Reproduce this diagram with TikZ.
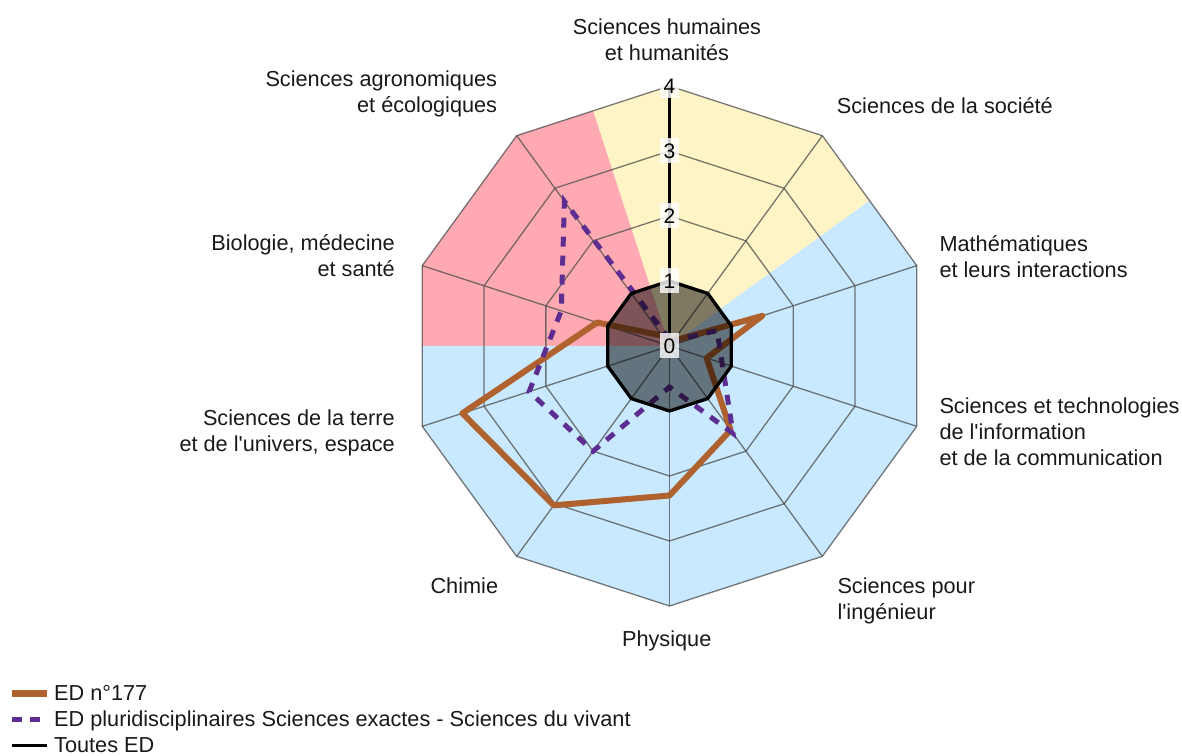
\documentclass[tikz,border=0pt]{standalone}
\usepackage{fontspec}
\setmainfont{Liberation Sans}
\definecolor{ybg}{RGB}{255,244,198}
\definecolor{pbg}{RGB}{255,170,178}
\definecolor{bbg}{RGB}{200,233,255}
\definecolor{edbrown}{RGB}{176,98,46}
\definecolor{edpurple}{RGB}{94,45,145}
\begin{document}
\begin{tikzpicture}[x=1pt,y=1pt,
  lbl/.style={font=\fontsize{21.7}{26}\selectfont, inner sep=0pt, text=black!90},
  gridline/.style={draw=black!70, draw opacity=0.75, line width=1.3pt, line join=round},
  brownline/.style={draw=edbrown, line width=6pt, line join=round},
  purpleline/.style={draw=edpurple, line width=5pt, dash pattern=on 10pt off 9pt},
  allline/.style={draw=black, line width=3.3pt, line join=round},
  tick/.style={font=\fontsize{21}{25}\selectfont, fill=white, fill opacity=0.8, text opacity=1, inner sep=1.5pt, minimum width=19pt, minimum height=25pt}]
\useasboundingbox (0,0) rectangle (1182,755);
\coordinate (O) at (669.5,409);
\begin{scope}[shift={(O)}]
  % background sectors
  \fill[ybg] (0,0) -- (36:247.3) -- (54:260) -- (90:260) -- (108:247.3) -- cycle;
  \fill[pbg] (0,0) -- (108:247.3) -- (126:260) -- (162:260) -- (180:247.3) -- cycle;
  \fill[bbg] (0,0) -- (180:247.3) -- (198:260) -- (234:260) -- (270:260) -- (306:260) -- (342:260) -- (18:260) -- (36:247.3) -- cycle;
  % grid
  \foreach \k in {1,...,4} {
    \draw[gridline] (90:{65*\k}) \foreach \a in {54,18,...,-234} { -- (\a:{65*\k}) } -- cycle;
  }
  \foreach \a in {54,18,...,-234} { \draw[gridline] (0,0) -- (\a:260); }
  \draw[black, line width=2.4pt] (0,0) -- (90:260);
  % series
  \draw[brownline] (90:6.5) -- (54:6.5) -- (18:97.5) -- (-18:39) -- (-54:104) -- (-90:149.5) -- (-126:197) -- (-162:217.8) -- (162:76) -- (126:13) -- cycle;
  \draw[purpleline] (90:6.5) -- (54:6.5) -- (18:50) -- (-18:55.3) -- (-54:108) -- (-90:41) -- (-126:130) -- (-162:147.6) -- (162:113.8) -- (126:178.8) -- cycle;
  \filldraw[allline, fill=black, fill opacity=0.5] (90:65) \foreach \a in {54,18,...,-234} { -- (\a:65) } -- cycle;
  % ticks
  \foreach \k in {0,...,4} { \node[tick] (t\k) at (90:{65*\k}) {\k}; }
\end{scope}
% axis labels
\node[lbl, anchor=north, align=center] (lhum) at (667,738.9) {\strut Sciences humaines\\\strut et humanités};
\node[lbl, anchor=base west] (lsoc) at (836.7,641.7) {Sciences de la société};
\node[lbl, anchor=north west, align=left] (lmath) at (939.3,521.5) {\strut Mathématiques\\\strut et leurs interactions};
\node[lbl, anchor=north west, align=left] (lstic) at (939.3,359.9) {\strut Sciences et technologies\\\strut de l\textquotesingle information\\\strut et de la communication};
\node[lbl, anchor=north west, align=left] (lspi) at (837.3,179.9) {\strut Sciences pour\\\strut l\textquotesingle ingénieur};
\node[lbl, anchor=base] (lphys) at (666.7,109) {Physique};
\node[lbl, anchor=base east] (lchim) at (498.3,161.7) {Chimie};
\node[lbl, anchor=north east, align=right] (lterre) at (395,348.2) {\strut Sciences de la terre\\\strut et de l\textquotesingle univers, espace};
\node[lbl, anchor=north east, align=right] (lbio) at (395,522.5) {\strut Biologie, médecine\\\strut et santé};
\node[lbl, anchor=north east, align=right] (lagro) at (497.3,686.5) {\strut Sciences agronomiques\\\strut et écologiques};
% legend
\coordinate (lg1a) at (12,62); \coordinate (lg1b) at (47,62);
\coordinate (lg2a) at (12,36); \coordinate (lg2b) at (47,36);
\coordinate (lg3a) at (12,10); \coordinate (lg3b) at (47,10);
\draw[draw=edbrown, line width=7pt] (lg1a) -- (lg1b);
\draw[draw=edpurple, line width=5pt, dash pattern=on 10pt off 8pt] (lg2a) -- (lg2b);
\draw[draw=black, line width=3pt] (lg3a) -- (lg3b);
\node[lbl, anchor=base west] (leg1) at (54,54.3) {ED n°177};
\node[lbl, anchor=base west] (leg2) at (54,28.3) {ED pluridisciplinaires Sciences exactes - Sciences du vivant};
\node[lbl, anchor=base west] (leg3) at (54,2.3) {Toutes ED};
\end{tikzpicture}
\end{document}
